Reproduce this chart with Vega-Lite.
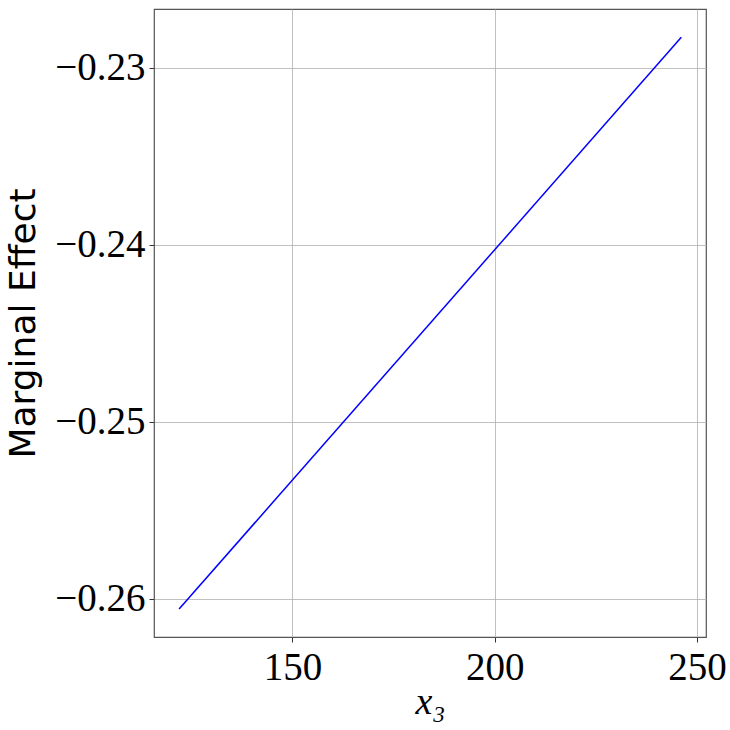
{
  "$schema": "https://vega.github.io/schema/vega-lite/v6.json",
  "width": 552,
  "height": 628,
  "autosize": "none",
  "padding": {"left": 154, "top": 9, "right": 24, "bottom": 93},
  "background": "white",
  "config": {
    "view": {"stroke": "#555555", "strokeWidth": 1.2},
    "axis": {
      "domain": false,
      "grid": true,
      "gridColor": "#b0b0b0",
      "gridWidth": 0.8,
      "tickColor": "#333333",
      "tickSize": 5,
      "labelFont": "Liberation Serif",
      "labelFontSize": 39,
      "labelColor": "#000000",
      "titleColor": "#000000",
      "labelPadding": 4
    }
  },
  "data": {
    "values": [
      {"x3": 122.0, "me": -0.26058},
      {"x3": 246.1, "me": -0.22827}
    ]
  },
  "mark": {"type": "line", "color": "#0000ff", "strokeWidth": 1.5, "clip": true},
  "encoding": {
    "x": {
      "field": "x3",
      "type": "quantitative",
      "scale": {"domain": [115.8, 252.2], "nice": false, "zero": false},
      "axis": {
        "values": [150, 200, 250],
        "format": "d",
        "labelPadding": 6,
        "title": "x₃",
        "titleFont": "Liberation Serif",
        "titleFontStyle": "italic",
        "titleFontWeight": "normal",
        "titleFontSize": 38,
        "titlePadding": -4
      }
    },
    "y": {
      "field": "me",
      "type": "quantitative",
      "scale": {"domain": [-0.26216, -0.22667], "nice": false, "zero": false},
      "axis": {
        "values": [-0.26, -0.25, -0.24, -0.23],
        "format": ".2f",
        "labelExpr": "replace(datum.label, '-', '−')",
        "title": "Marginal Effect",
        "titleFont": "DejaVu Sans",
        "titleFontWeight": "normal",
        "titleFontSize": 36,
        "titlePadding": 12
      }
    }
  }
}
